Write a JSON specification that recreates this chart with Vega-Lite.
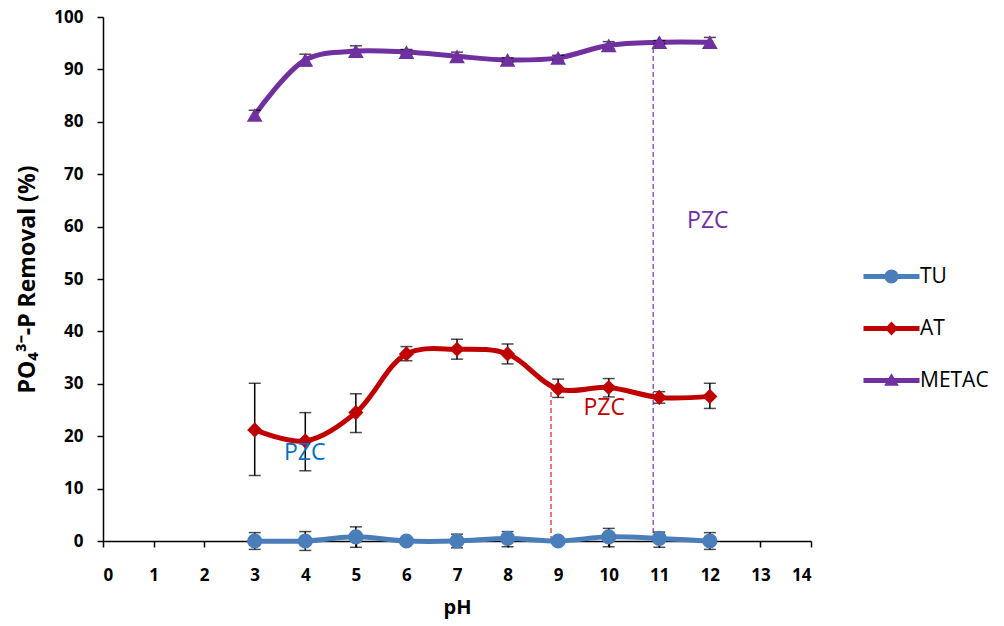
{
  "$schema": "https://vega.github.io/schema/vega-lite/v6.json",
  "autosize": {"type": "none"},
  "width": 708,
  "height": 524,
  "padding": {"left": 103, "top": 17, "right": 193, "bottom": 85},
  "background": "white",
  "config": {
    "view": {"stroke": null},
    "font": "Open Sans",
    "axis": {"grid": false, "domainColor": "black", "domainWidth": 1.5, "tickColor": "black", "tickWidth": 1.5, "tickSize": 6, "labelFont": "Open Sans", "labelFontWeight": "bold", "labelFontSize": 17, "labelColor": "black", "titleFont": "Open Sans", "titleFontWeight": "bold", "titleFontSize": 20, "titleColor": "black"}
  },
  "datasets": {
    "main": [
      {"pH": 3, "series": "TU", "value": 0, "lo": -1.6, "hi": 1.6},
      {"pH": 4, "series": "TU", "value": 0, "lo": -1.8, "hi": 1.8},
      {"pH": 5, "series": "TU", "value": 0.8, "lo": -1.2, "hi": 2.7},
      {"pH": 6, "series": "TU", "value": 0, "lo": -0.3, "hi": 0.3},
      {"pH": 7, "series": "TU", "value": 0, "lo": -1.3, "hi": 1.3},
      {"pH": 8, "series": "TU", "value": 0.5, "lo": -1.1, "hi": 1.8},
      {"pH": 9, "series": "TU", "value": 0, "lo": -0.3, "hi": 0.3},
      {"pH": 10, "series": "TU", "value": 0.8, "lo": -1.1, "hi": 2.4},
      {"pH": 11, "series": "TU", "value": 0.5, "lo": -1.2, "hi": 1.7},
      {"pH": 12, "series": "TU", "value": 0, "lo": -1.6, "hi": 1.6},
      {"pH": 3, "series": "AT", "value": 21.2, "lo": 12.5, "hi": 30.1},
      {"pH": 4, "series": "AT", "value": 19.1, "lo": 13.4, "hi": 24.5},
      {"pH": 5, "series": "AT", "value": 24.5, "lo": 20.7, "hi": 28.1},
      {"pH": 6, "series": "AT", "value": 35.7, "lo": 34.4, "hi": 37.1},
      {"pH": 7, "series": "AT", "value": 36.6, "lo": 34.7, "hi": 38.5},
      {"pH": 8, "series": "AT", "value": 35.7, "lo": 33.8, "hi": 37.6},
      {"pH": 9, "series": "AT", "value": 29.0, "lo": 27.4, "hi": 30.9},
      {"pH": 10, "series": "AT", "value": 29.3, "lo": 27.5, "hi": 31.0},
      {"pH": 11, "series": "AT", "value": 27.4, "lo": 26.3, "hi": 28.5},
      {"pH": 12, "series": "AT", "value": 27.6, "lo": 25.3, "hi": 30.1},
      {"pH": 3, "series": "METAC", "value": 81.3, "lo": 80.4, "hi": 82.2},
      {"pH": 4, "series": "METAC", "value": 91.8, "lo": 90.7, "hi": 92.9},
      {"pH": 5, "series": "METAC", "value": 93.5, "lo": 92.5, "hi": 94.5},
      {"pH": 6, "series": "METAC", "value": 93.3, "lo": 92.8, "hi": 93.8},
      {"pH": 7, "series": "METAC", "value": 92.5, "lo": 91.7, "hi": 93.3},
      {"pH": 8, "series": "METAC", "value": 91.8, "lo": 91.4, "hi": 92.2},
      {"pH": 9, "series": "METAC", "value": 92.2, "lo": 91.7, "hi": 92.7},
      {"pH": 10, "series": "METAC", "value": 94.6, "lo": 93.9, "hi": 95.3},
      {"pH": 11, "series": "METAC", "value": 95.2, "lo": 94.9, "hi": 95.5},
      {"pH": 12, "series": "METAC", "value": 95.2, "lo": 94.3, "hi": 96.1}
    ],
    "pzc": [
      {"series": "AT", "pH": 8.86, "y0": 0, "y1": 29.0},
      {"series": "METAC", "pH": 10.88, "y0": 0, "y1": 95.2}
    ],
    "labels": [
      {"series": "TU", "pH": 3.99, "y": 16.8, "text": "PZC"},
      {"series": "AT", "pH": 9.91, "y": 25.4, "text": "PZC"},
      {"series": "METAC", "pH": 11.96, "y": 61.1, "text": "PZC"}
    ]
  },
  "layer": [
    {
      "data": {"name": "pzc"},
      "transform": [{"filter": "datum.series === 'AT'"}],
      "mark": {"type": "rule", "color": "#e05050", "strokeWidth": 1.5, "strokeDash": [5, 3]},
      "encoding": {
        "x": {"field": "pH", "type": "quantitative", "scale": {"domain": [0, 14], "nice": false, "zero": true},
              "axis": {"title": "pH", "values": [0,1,2,3,4,5,6,7,8,9,10,11,12,13,14], "labelPadding": 20, "titlePadding": 14}},
        "y": {"field": "y0", "type": "quantitative", "scale": {"domain": [0, 100], "nice": false},
              "axis": {"title": "PO₄³⁻-P Removal (%)", "titleFontSize": 23, "values": [0,10,20,30,40,50,60,70,80,90,100], "labelPadding": 14, "titlePadding": 14}},
        "y2": {"field": "y1"}
      }
    },
    {
      "data": {"name": "pzc"},
      "transform": [{"filter": "datum.series === 'METAC'"}],
      "mark": {"type": "rule", "color": "#8a5cc4", "strokeWidth": 1.5, "strokeDash": [5, 3]},
      "encoding": {
        "x": {"field": "pH", "type": "quantitative"},
        "y": {"field": "y0", "type": "quantitative"},
        "y2": {"field": "y1"}
      }
    },
    {
      "data": {"name": "main"},
      "transform": [{"filter": "datum.series === 'TU'"}],
      "mark": {"type": "line", "interpolate": "catmull-rom", "strokeWidth": 5, "color": "#4a7ebb"},
      "encoding": {
        "x": {"field": "pH", "type": "quantitative"},
        "y": {"field": "value", "type": "quantitative"}
      }
    },
    {
      "data": {"name": "main"},
      "transform": [{"filter": "datum.series === 'AT'"}],
      "mark": {"type": "line", "interpolate": "catmull-rom", "strokeWidth": 5, "color": "#c00000"},
      "encoding": {
        "x": {"field": "pH", "type": "quantitative"},
        "y": {"field": "value", "type": "quantitative"}
      }
    },
    {
      "data": {"name": "main"},
      "transform": [{"filter": "datum.series === 'METAC'"}],
      "mark": {"type": "line", "interpolate": "catmull-rom", "strokeWidth": 5, "color": "#7030a0"},
      "encoding": {
        "x": {"field": "pH", "type": "quantitative"},
        "y": {"field": "value", "type": "quantitative"}
      }
    },
    {
      "data": {"name": "main"},
      "mark": {"type": "rule", "color": "black", "strokeWidth": 1.5},
      "encoding": {
        "x": {"field": "pH", "type": "quantitative"},
        "y": {"field": "lo", "type": "quantitative"},
        "y2": {"field": "hi"}
      }
    },
    {
      "data": {"name": "main"},
      "mark": {"type": "tick", "orient": "horizontal", "color": "black", "size": 12, "thickness": 1.5},
      "encoding": {
        "x": {"field": "pH", "type": "quantitative"},
        "y": {"field": "lo", "type": "quantitative"}
      }
    },
    {
      "data": {"name": "main"},
      "mark": {"type": "tick", "orient": "horizontal", "color": "black", "size": 12, "thickness": 1.5},
      "encoding": {
        "x": {"field": "pH", "type": "quantitative"},
        "y": {"field": "hi", "type": "quantitative"}
      }
    },
    {
      "data": {"name": "main"},
      "transform": [{"filter": "datum.series === 'TU'"}],
      "mark": {"type": "point", "filled": true, "opacity": 1, "size": 230, "shape": "circle", "color": "#4a7ebb"},
      "encoding": {
        "x": {"field": "pH", "type": "quantitative"},
        "y": {"field": "value", "type": "quantitative"}
      }
    },
    {
      "data": {"name": "main"},
      "transform": [{"filter": "datum.series === 'AT'"}],
      "mark": {"type": "point", "filled": true, "opacity": 1, "size": 230, "shape": "diamond", "color": "#c00000"},
      "encoding": {
        "x": {"field": "pH", "type": "quantitative"},
        "y": {"field": "value", "type": "quantitative"}
      }
    },
    {
      "data": {"name": "main"},
      "transform": [{"filter": "datum.series === 'METAC'"}],
      "mark": {"type": "point", "filled": true, "opacity": 1, "size": 250, "shape": "triangle-up", "color": "#7030a0"},
      "encoding": {
        "x": {"field": "pH", "type": "quantitative"},
        "y": {"field": "value", "type": "quantitative"}
      }
    },
    {
      "data": {"name": "main"},
      "transform": [{"filter": "datum.pH > 100"}],
      "mark": {"type": "point", "filled": true, "opacity": 1, "size": 196, "strokeWidth": 0},
      "encoding": {
        "x": {"field": "pH", "type": "quantitative"},
        "y": {"field": "value", "type": "quantitative"},
        "color": {"field": "series", "type": "nominal",
                  "scale": {"domain": ["TU", "AT", "METAC"], "range": ["#4a7ebb", "#c00000", "#7030a0"]},
                  "legend": {
                    "title": null, "orient": "none", "legendX": 778, "legendY": 249,
                    "symbolSize": 196, "symbolOpacity": 1, "symbolStrokeWidth": 0,
                    "labelFont": "Open Sans", "labelFontSize": 21, "labelColor": "black",
                    "rowPadding": 30, "labelOffset": 18
                  }},
        "shape": {"field": "series", "type": "nominal",
                  "scale": {"domain": ["TU", "AT", "METAC"],
                            "range": ["M-4,-0.36H4V0.36H-4Z M1,0A1,1 0 1,1 -1,0A1,1 0 1,1 1,0Z",
                                      "M-4,-0.36H4V0.36H-4Z M0,-1L0.95,0L0,1L-0.95,0Z",
                                      "M-4,-0.36H4V0.36H-4Z M0,-1.05L1.05,0.75H-1.05Z"]}}
      }
    },
    {
      "data": {"name": "labels"},
      "transform": [{"filter": "datum.series === 'TU'"}],
      "mark": {"type": "text", "color": "#0070c0", "fontSize": 23, "font": "Open Sans"},
      "encoding": {"x": {"field": "pH", "type": "quantitative"}, "y": {"field": "y", "type": "quantitative"}, "text": {"field": "text"}}
    },
    {
      "data": {"name": "labels"},
      "transform": [{"filter": "datum.series === 'AT'"}],
      "mark": {"type": "text", "color": "#c00000", "fontSize": 23, "font": "Open Sans"},
      "encoding": {"x": {"field": "pH", "type": "quantitative"}, "y": {"field": "y", "type": "quantitative"}, "text": {"field": "text"}}
    },
    {
      "data": {"name": "labels"},
      "transform": [{"filter": "datum.series === 'METAC'"}],
      "mark": {"type": "text", "color": "#7030a0", "fontSize": 23, "font": "Open Sans"},
      "encoding": {"x": {"field": "pH", "type": "quantitative"}, "y": {"field": "y", "type": "quantitative"}, "text": {"field": "text"}}
    }
  ]
}
